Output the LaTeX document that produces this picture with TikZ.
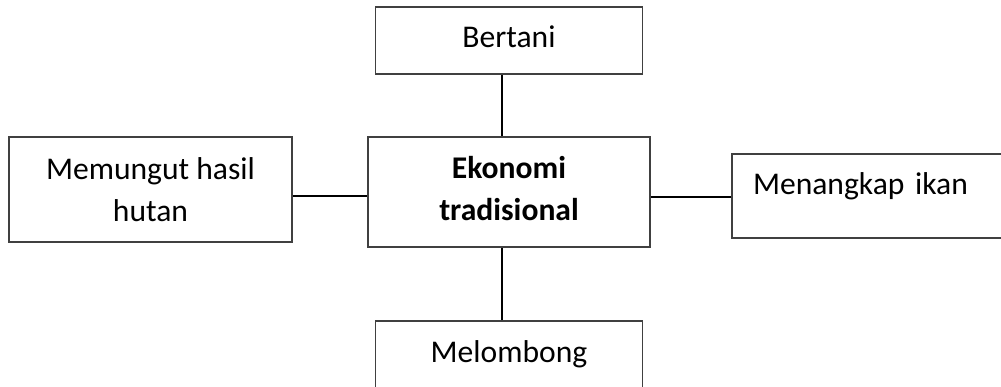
\documentclass[tikz,border=0pt]{standalone}
\usepackage{fontspec}
\setmainfont{Carlito}
\begin{document}
\begin{tikzpicture}[x=1pt,y=-1pt,
  box/.style={draw=black!75, line width=1.6pt, inner sep=0pt, fill=white,
    font=\fontsize{31.6}{42.5}\selectfont, align=center},
  link/.style={draw=black, line width=1.6pt}]
\useasboundingbox (0,0) rectangle (1001,387);
\begin{scope}
\clip (0,0) rectangle (1001,387);
\node[box, minimum width=267pt, minimum height=67pt, text height=22pt, text depth=7pt] (top) at (509,40.5) {Bertani};
\node[box, minimum width=282pt, minimum height=110pt] (center) at (509,192)
  {\textbf{Ekonomi}\\\textbf{tradisional}\rule[-7.3pt]{0pt}{7.3pt}};
\node[box, minimum width=283pt, minimum height=105pt] (left) at (150.5,189.5) {Memungut hasil\\hutan};
\node[box, text width=241pt, inner xsep=21pt, align=left, minimum height=84pt, text height=22pt, text depth=24pt] (right) at (873.5,196) {Menangkap ikan};
\node[box, minimum width=267pt, minimum height=67pt, text height=22pt, text depth=7pt] (bottom) at (509,354.5) {Melombong};
\coordinate (tx) at (502,0);
\coordinate (ly) at (0,196);
\coordinate (ry) at (0,197);
\draw[link] (top.south -| tx) -- (center.north -| tx);
\draw[link] (bottom.north -| tx) -- (center.south -| tx);
\draw[link] (left.east |- ly) -- (center.west |- ly);
\draw[link] (right.west |- ry) -- (center.east |- ry);
\end{scope}
\end{tikzpicture}
\end{document}
